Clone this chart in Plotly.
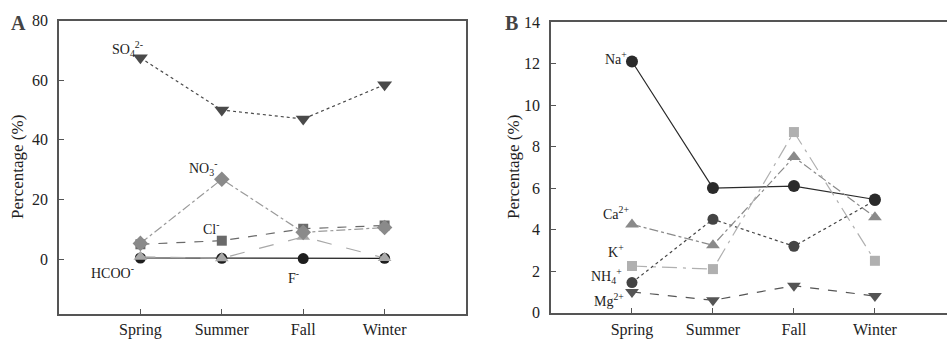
import plotly.graph_objects as go

seasons = ["Spring", "Summer", "Fall", "Winter"]
xpos = [1, 2, 3, 4]

# Panel A (anions), %
a_F = [0.4, 0.3, 0.2, 0.3]
a_HCOO = [0.8, 0.3, 7.5, 0.4]
a_Cl = [5.0, 6.2, 10.2, 11.3]
a_NO3 = [5.3, 26.8, 9.0, 10.6]
a_SO4 = [67.5, 50.0, 47.0, 58.5]

# Panel B (cations), %
b_NH4 = [1.45, 4.5, 3.2, 5.4]
b_Na = [12.1, 6.0, 6.1, 5.45]
b_Ca = [4.25, 3.25, 7.5, 4.6]
b_K = [2.25, 2.1, 8.7, 2.5]
b_Mg = [1.0, 0.6, 1.3, 0.8]

fig = go.Figure()

def add(x, y, xa, ya, color, lcolor, dash, symbol, size):
    fig.add_trace(go.Scatter(
        x=x, y=y, xaxis=xa, yaxis=ya, mode="lines+markers",
        line=dict(color=lcolor, width=1.2, dash=dash),
        marker=dict(color=color, symbol=symbol, size=size, line=dict(width=0)),
        showlegend=False, hoverinfo="skip", cliponaxis=False))

# Panel A
add(xpos, a_F, "x", "y", "#1e1e1e", "#1e1e1e", "solid", "circle", 11)
add(xpos, a_HCOO, "x", "y", "#a8a8a8", "#a8a8a8", "longdash", "triangle-up", 12)
add(xpos, a_Cl, "x", "y", "#6a6a6a", "#6a6a6a", "dash", "square", 10)
add(xpos, a_NO3, "x", "y", "#8a8a8a", "#9a9a9a", "dashdot", "diamond", 12)
add(xpos, a_SO4, "x", "y", "#4a4a4a", "#4a4a4a", "dot", "triangle-down", 13)

# Panel B
add(xpos, b_NH4, "x2", "y2", "#444444", "#444444", "dot", "circle", 11)
add(xpos, b_Na, "x2", "y2", "#2a2a2a", "#2a2a2a", "solid", "circle", 12)
add(xpos, b_Ca, "x2", "y2", "#8a8a8a", "#8a8a8a", "dashdot", "triangle-up", 12)
add(xpos, b_K, "x2", "y2", "#b0b0b0", "#b0b0b0", "longdashdot", "square", 10)
add(xpos, b_Mg, "x2", "y2", "#555555", "#555555", "dash", "triangle-down", 12)

W, H = 947, 339
font = dict(family="Liberation Serif, Times New Roman, serif", size=16, color="#222")
axcol = "#555555"

common_x = dict(tickmode="array", tickvals=xpos, ticktext=seasons, ticks="inside",
                ticklen=5, tickcolor=axcol, showline=True, linecolor=axcol, linewidth=1.5,
                showgrid=False, zeroline=False, tickfont=font, automargin=False,
                ticklabelstandoff=1)
common_y = dict(ticks="inside", ticklen=5, tickcolor=axcol, showline=True, linecolor=axcol,
                linewidth=1.5, showgrid=False, zeroline=False, tickfont=font,
                ticklabelstandoff=6, automargin=False)

fig.update_layout(
    width=W, height=H, margin=dict(l=0, r=0, t=0, b=0, autoexpand=False),
    paper_bgcolor="white", plot_bgcolor="white", font=font,
    xaxis=dict(domain=[59 / W, 466 / W], range=[0, 5], anchor="y", mirror=True, **common_x),
    yaxis=dict(domain=[(H - 313.5) / H, (H - 20.5) / H], range=[-18.2, 80],
               tickvals=[0, 20, 40, 60, 80], anchor="x", mirror=True, **common_y),
    xaxis2=dict(domain=[551 / W, 1.0], range=[0, 4.89], anchor="y2", mirror=True, **common_x),
    yaxis2=dict(domain=[(H - 312.7) / H, (H - 22) / H], range=[0, 14],
                tickvals=[0, 2, 4, 6, 8, 10, 12, 14], anchor="x2", **common_y),
)

lab = dict(family="Liberation Serif, Times New Roman, serif", size=14, color="#222")
anns = [
    ("x", "y", 0.84, 70.5, "SO<sub>4</sub><sup>2-</sup>"),
    ("x", "y", 1.77, 30.5, "NO<sub>3</sub><sup>-</sup>"),
    ("x", "y", 1.87, 10.6, "Cl<sup>-</sup>"),
    ("x", "y", 0.66, -4.2, "HCOO<sup>-</sup>"),
    ("x", "y", 2.88, -5.9, "F<sup>-</sup>"),
    ("x2", "y2", 0.80, 12.25, "Na<sup>+</sup>"),
    ("x2", "y2", 0.80, 4.8, "Ca<sup>2+</sup>"),
    ("x2", "y2", 0.80, 2.95, "K<sup>+</sup>"),
    ("x2", "y2", 0.69, 1.75, "NH<sub>4</sub><sup>+</sup>"),
    ("x2", "y2", 0.72, 0.6, "Mg<sup>2+</sup>"),
]
for xr, yr, x, y, t in anns:
    fig.add_annotation(x=x, y=y, xref=xr, yref=yr, text=t, showarrow=False, font=lab,
                       xanchor="center", yanchor="middle")

# panel letters
for xp, t in ((18, "A"), (512, "B")):
    fig.add_annotation(x=xp / W, y=1 - 23 / H, xref="paper", yref="paper", text="<b>%s</b>" % t,
                       showarrow=False, xanchor="center", yanchor="middle",
                       font=dict(family="Liberation Serif, serif", size=20, color="#444"))

# y titles
for xp in (18, 514):
    fig.add_annotation(x=xp / W, y=1 - 167 / H, xref="paper", yref="paper",
                       text="Percentage (%)", textangle=-90, showarrow=False,
                       xanchor="center", yanchor="middle",
                       font=dict(family="Liberation Serif, serif", size=17, color="#222"))

fig.write_html("out.html")
